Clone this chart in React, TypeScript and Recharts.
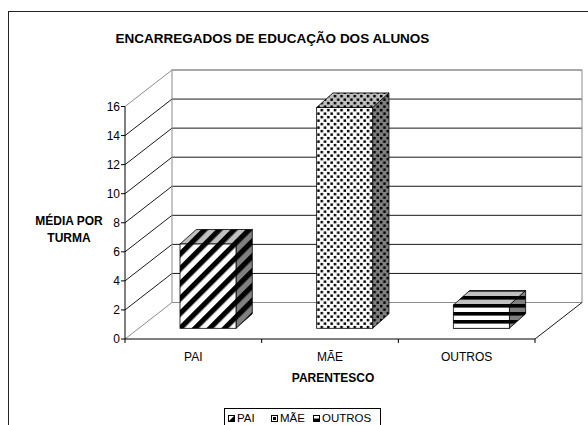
import React from 'react';
import { BarChart, Bar, XAxis, YAxis, CartesianGrid, ReferenceArea } from 'recharts';

const categories = ['PAI', 'MÃE', 'OUTROS'];
const averages = [5.8, 15.2, 1.6];
const yTicks = [0, 2, 4, 6, 8, 10, 12, 14, 16];

const data = categories.map((name, i) => ({ name, value: averages[i] }));

const FONT = '"Liberation Sans", Arial, sans-serif';

// oblique depth of walls / floor
const DX = 47;
const DY = 36.5;
// bar front face offset from front plane, and bar depth
const BAR_OFF_X = 15;
const BAR_OFF_Y = 10.7;
const BAR_DX = 16.3;
const BAR_DY = 14.5;

const GRID = '#1a1a1a';
const EDGE = '#8c8c8c';
const FACE_BG: Record<string, string> = { front: '#ffffff', top: '#c0c0c0', side: '#808080' };
const fillKinds = ['diag', 'dots', 'stripes'];
const legendLeft = [3, 46, 88];

const Pattern = ({ id, kind, bg }: { id: string; kind: string; bg: string }) => {
  if (kind === 'diag') {
    return (
      <pattern id={id} width={10.5} height={10.5} patternUnits="userSpaceOnUse" patternTransform="rotate(45)">
        <rect width={10.5} height={10.5} fill={bg} />
        <rect width={5.2} height={10.5} fill="#000" />
      </pattern>
    );
  }
  if (kind === 'dots') {
    return (
      <pattern id={id} width={6.6} height={7} patternUnits="userSpaceOnUse">
        <rect width={6.6} height={7} fill={bg} />
        <rect x={0.4} y={0.4} width={2.5} height={2.5} fill="#000" />
        <rect x={3.7} y={3.9} width={2.5} height={2.5} fill="#000" />
      </pattern>
    );
  }
  return (
    <pattern id={id} width={8} height={8} patternUnits="userSpaceOnUse">
      <rect width={8} height={8} fill={bg} />
      <rect y={0} width={8} height={3.6} fill="#000" />
    </pattern>
  );
};

const pts = (a: number[][]) => a.map((p) => p.join(',')).join(' ');

const Box3D = (props: any) => {
  const { x, y, width, height } = props;
  let idx = categories.indexOf(props.payload?.name ?? props.name);
  if (idx < 0) idx = props.index ?? 0;
  const kind = fillKinds[idx];
  const fx = x + BAR_OFF_X;
  const fy = y - BAR_OFF_Y;
  const w = width;
  const h = height;
  const pid = (f: string) => `pat-${idx}-${f}`;
  const top = [[fx, fy], [fx + BAR_DX, fy - BAR_DY], [fx + w + BAR_DX, fy - BAR_DY], [fx + w, fy]];
  const side = [[fx + w, fy], [fx + w + BAR_DX, fy - BAR_DY], [fx + w + BAR_DX, fy + h - BAR_DY], [fx + w, fy + h]];
  return (
    <g>
      <defs>
        {['front', 'top', 'side'].map((f) => (
          <Pattern key={f} id={pid(f)} kind={kind} bg={FACE_BG[f]} />
        ))}
      </defs>
      <polygon points={pts(side)} fill={`url(#${pid('side')})`} stroke="#000" strokeWidth={0.8} />
      <polygon points={pts(top)} fill={`url(#${pid('top')})`} stroke="#000" strokeWidth={0.8} />
      <rect x={fx} y={fy} width={w} height={h} fill={`url(#${pid('front')})`} stroke="#000" strokeWidth={0.8} />
    </g>
  );
};

const GridLine = (props: any) => {
  const { x1, y1, x2, index } = props;
  const edge = index === 0 || index === yTicks.length - 1;
  const c = edge ? EDGE : GRID;
  return (
    <g key={props.key ?? `g-${index}`}>
      <line x1={x1} y1={y1} x2={x1 + DX} y2={y1 - DY} stroke={c} strokeWidth={1} />
      <line x1={x1 + DX} y1={y1 - DY} x2={x2 + DX} y2={y1 - DY} stroke={c} strokeWidth={1} />
    </g>
  );
};

const WallFrame = (props: any) => {
  const { x, y, width, height } = props;
  return (
    <g>
      <rect x={x + DX} y={y - DY} width={width} height={height} fill="none" stroke={EDGE} strokeWidth={1} />
      <line x1={x + width} y1={y + height} x2={x + width + DX} y2={y + height - DY} stroke={GRID} strokeWidth={1} />
    </g>
  );
};

const XTick = (props: any) => {
  const { x, y, payload, index } = props;
  const half = payload?.offset ?? (props.width ? props.width / categories.length / 2 : 0);
  const axisY = y - 13;
  return (
    <g>
      <line x1={x - half} y1={axisY} x2={x - half} y2={axisY + 4} stroke="#000" />
      {index === categories.length - 1 && (
        <line x1={x + half} y1={axisY} x2={x + half} y2={axisY + 4} stroke="#000" />
      )}
      <text x={x} y={y} dy="0.71em" textAnchor="middle" fontSize={12} fontFamily={FONT} fill="#000">
        {payload.value}
      </text>
    </g>
  );
};

const Swatch = ({ kind }: { kind: string }) => (
  <svg width={7} height={7} style={{ display: 'block' }}>
    <rect x={0.5} y={0.5} width={6} height={6} fill="#fff" stroke="#000" />
    {kind === 'diag' && <polygon points="6.5,0.5 6.5,6.5 0.5,6.5" fill="#000" />}
    {kind === 'dots' && <rect x={2} y={2} width={3} height={3} fill="#000" />}
    {kind === 'stripes' && <rect x={0.5} y={3.5} width={6} height={3} fill="#000" />}
  </svg>
);

export default function App() {
  return (
    <div style={{ position: 'absolute', left: 0, top: 0, width: 588, height: 425, overflow: 'hidden', background: '#fff' }}>
      <div style={{ position: 'absolute', left: 8, top: 11, width: 620, height: 440, border: '1px solid #222' }} />
      <BarChart
        width={588}
        height={425}
        data={data}
        margin={{ top: 106.5, right: 53, bottom: 56, left: 85 }}
        style={{ position: 'absolute', left: 0, top: 0 }}
      >
        <CartesianGrid vertical={false} horizontal={GridLine} />
        <ReferenceArea y1={0} y2={16} fill="none" stroke="none" shape={WallFrame} ifOverflow="visible" />
        <XAxis
          dataKey="name"
          height={30}
          axisLine={{ stroke: '#000' }}
          tickLine={false}
          tickSize={4}
          tickMargin={9}
          tick={<XTick />}
          interval={0}
        />
        <YAxis
          width={40}
          domain={[0, 16]}
          ticks={yTicks}
          axisLine={{ stroke: '#000' }}
          tickLine={{ stroke: '#000' }}
          tickSize={4}
          tickMargin={1}
          tick={{ fontSize: 12, fontFamily: FONT, fill: '#000' }}
          interval={0}
        />
        <Bar dataKey="value" barSize={56} shape={Box3D} isAnimationActive={false} />
      </BarChart>
      <svg width={588} height={425} style={{ position: 'absolute', left: 0, top: 0, pointerEvents: 'none' }}>
        <text x={272.5} y={43} textAnchor="middle" fontSize={13.5} fontWeight="bold" fontFamily={FONT} fill="#000">
          ENCARREGADOS DE EDUCAÇÃO DOS ALUNOS
        </text>
        <text x={69} y={225} textAnchor="middle" fontSize={12} fontWeight="bold" fontFamily={FONT} fill="#000">
          MÉDIA POR
        </text>
        <text x={69} y={242} textAnchor="middle" fontSize={12} fontWeight="bold" fontFamily={FONT} fill="#000">
          TURMA
        </text>
        <text x={333} y={381.5} textAnchor="middle" fontSize={12} fontWeight="bold" fontFamily={FONT} fill="#000">
          PARENTESCO
        </text>
      </svg>
      <div
        style={{
          position: 'absolute',
          left: 224,
          top: 408,
          width: 155,
          height: 24,
          border: '1px solid #000',
          fontFamily: FONT,
          fontSize: 11.5,
          color: '#000',
        }}
      >
        {categories.map((c, i) => (
          <div key={c} style={{ position: 'absolute', left: legendLeft[i], top: 3, display: 'flex', alignItems: 'center', gap: 2, lineHeight: '12px' }}>
            <Swatch kind={fillKinds[i]} />
            <span>{c}</span>
          </div>
        ))}
      </div>
    </div>
  );
}
